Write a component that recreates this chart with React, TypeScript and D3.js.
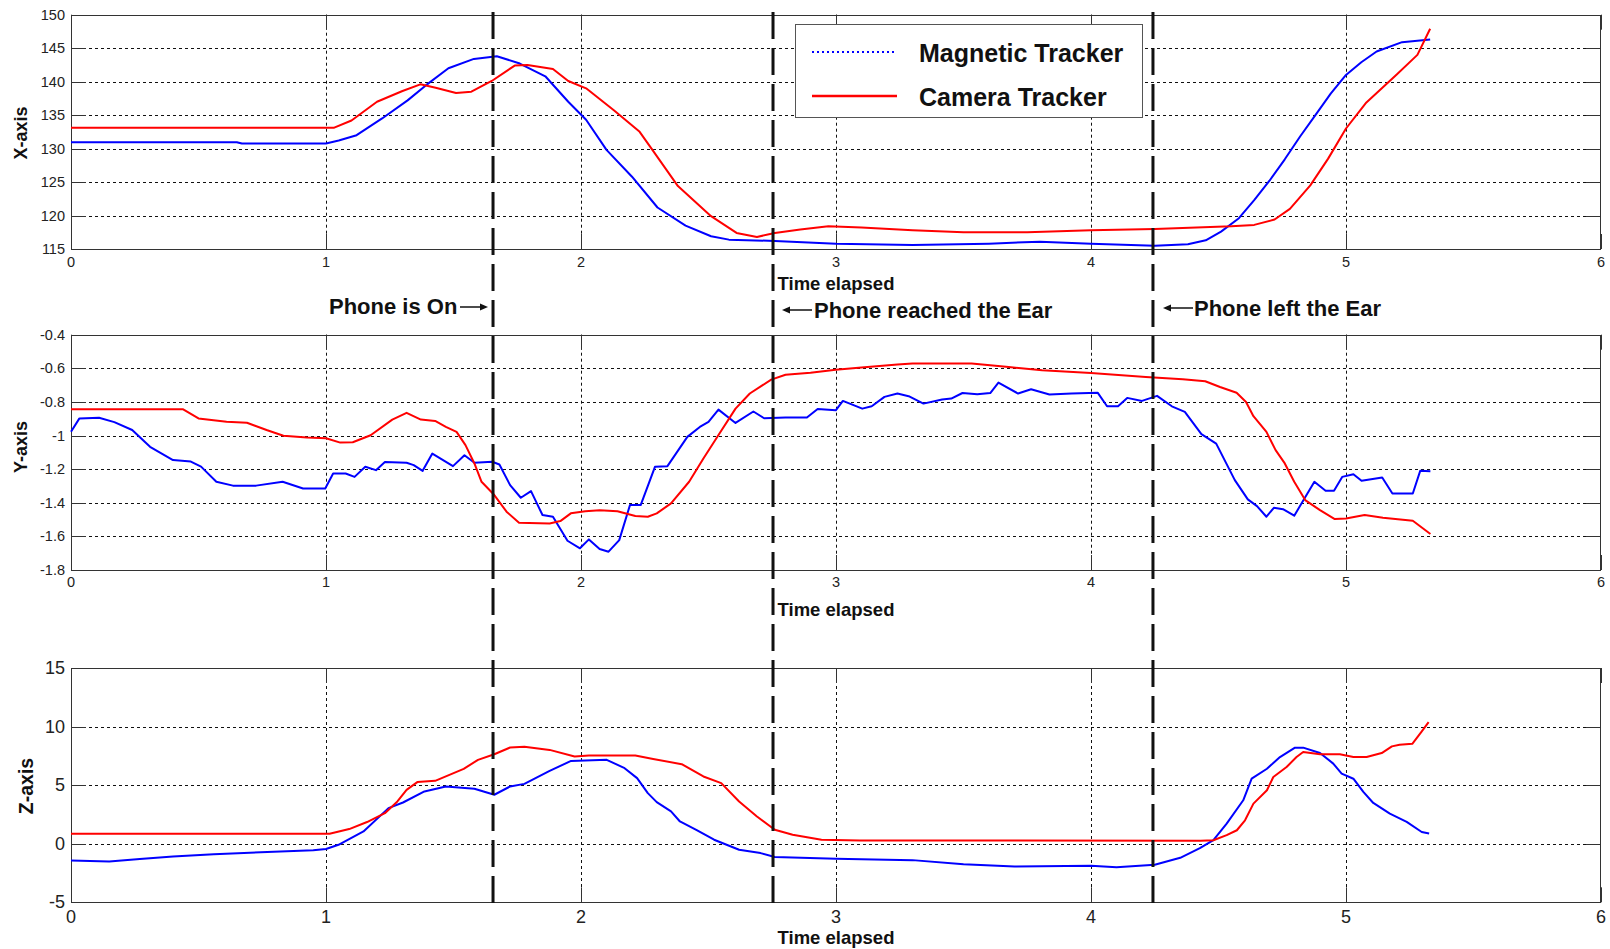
import React from "react";
import * as d3 from "d3";

// time axis shared by all three panels
const timeTicks = [0, 1, 2, 3, 4, 5, 6];

// X-axis panel
const xTicks = [115, 120, 125, 130, 135, 140, 145, 150];
const xMagnetic: [number, number][] = [
  [0, 130.95], [0.65, 130.95], [0.67, 130.75], [1.0, 130.75], [1.05, 131.2], [1.12, 132.0], [1.22, 134.5],
  [1.32, 137.2], [1.39, 139.4], [1.48, 142.0], [1.58, 143.4], [1.67, 143.8], [1.76, 142.7], [1.86, 140.8],
  [1.95, 137.0], [2.02, 134.3], [2.1, 129.8], [2.2, 125.8], [2.3, 121.2], [2.41, 118.5], [2.51, 116.9],
  [2.58, 116.4], [2.76, 116.2], [3.0, 115.8], [3.3, 115.6], [3.6, 115.8], [3.8, 116.1], [4.0, 115.8],
  [4.25, 115.5], [4.38, 115.7], [4.45, 116.3], [4.51, 117.6], [4.58, 119.6], [4.64, 122.3], [4.7, 125.2],
  [4.76, 128.4], [4.82, 131.8], [4.88, 135.0], [4.94, 138.2], [5.0, 141.0], [5.06, 142.9], [5.12, 144.5],
  [5.22, 145.9], [5.33, 146.3],
];
const xCamera: [number, number][] = [
  [0, 133.1], [1.03, 133.1], [1.1, 134.2], [1.2, 137.0], [1.3, 138.6], [1.37, 139.6], [1.43, 139.1],
  [1.51, 138.3], [1.57, 138.5], [1.65, 140.1], [1.74, 142.4], [1.79, 142.5], [1.89, 141.9], [1.95, 140.1],
  [2.02, 139.0], [2.13, 135.7], [2.23, 132.5], [2.28, 129.8], [2.38, 124.4], [2.51, 119.9], [2.61, 117.4],
  [2.69, 116.8], [2.76, 117.4], [2.86, 117.9], [2.97, 118.4], [3.1, 118.2], [3.3, 117.8], [3.5, 117.5],
  [3.75, 117.5], [4.0, 117.8], [4.25, 118.0], [4.55, 118.4], [4.64, 118.6], [4.72, 119.4], [4.78, 121.0],
  [4.86, 124.5], [4.93, 128.5], [5.0, 133.0], [5.08, 136.9], [5.2, 141.1], [5.28, 144.0], [5.33, 147.9],
];

// Y-axis panel
const yTicks = [-1.8, -1.6, -1.4, -1.2, -1, -0.8, -0.6, -0.4];
const yMagnetic: [number, number][] = [
  [0, -0.977], [0.033, -0.898], [0.11, -0.894], [0.17, -0.92], [0.24, -0.967], [0.31, -1.067], [0.4, -1.146],
  [0.47, -1.155], [0.51, -1.185], [0.57, -1.275], [0.635, -1.298], [0.726, -1.298], [0.83, -1.275],
  [0.91, -1.315], [0.997, -1.315], [1.028, -1.226], [1.077, -1.226], [1.112, -1.246], [1.154, -1.186],
  [1.196, -1.206], [1.231, -1.158], [1.316, -1.162], [1.344, -1.176], [1.379, -1.21], [1.417, -1.107],
  [1.498, -1.182], [1.543, -1.117], [1.582, -1.162], [1.652, -1.156], [1.68, -1.172], [1.722, -1.295],
  [1.764, -1.37], [1.804, -1.331], [1.849, -1.473], [1.89, -1.483], [1.947, -1.626], [1.996, -1.671],
  [2.031, -1.618], [2.073, -1.675], [2.108, -1.691], [2.15, -1.622], [2.192, -1.414], [2.234, -1.414],
  [2.29, -1.186], [2.339, -1.182], [2.417, -1.008], [2.466, -0.949], [2.5, -0.919], [2.539, -0.846],
  [2.606, -0.925], [2.676, -0.857], [2.718, -0.897], [2.802, -0.893], [2.886, -0.893], [2.928, -0.842],
  [2.999, -0.85], [3.027, -0.794], [3.103, -0.84], [3.14, -0.826], [3.19, -0.77], [3.241, -0.75],
  [3.285, -0.766], [3.343, -0.81], [3.416, -0.786], [3.452, -0.78], [3.496, -0.747], [3.554, -0.754],
  [3.605, -0.747], [3.637, -0.685], [3.714, -0.75], [3.765, -0.725], [3.837, -0.756], [3.924, -0.75],
  [4.026, -0.745], [4.063, -0.826], [4.106, -0.826], [4.142, -0.776], [4.2, -0.794], [4.259, -0.764],
  [4.317, -0.826], [4.368, -0.859], [4.433, -0.992], [4.491, -1.048], [4.564, -1.265], [4.615, -1.38],
  [4.651, -1.42], [4.688, -1.483], [4.717, -1.43], [4.753, -1.438], [4.797, -1.477], [4.876, -1.275],
  [4.92, -1.329], [4.953, -1.329], [4.985, -1.246], [5.029, -1.23], [5.061, -1.269], [5.142, -1.25],
  [5.182, -1.345], [5.262, -1.345], [5.291, -1.21], [5.331, -1.212],
];
const yCamera: [number, number][] = [
  [0, -0.844], [0.44, -0.844], [0.5, -0.898], [0.61, -0.918], [0.69, -0.924], [0.767, -0.967], [0.833, -1.001],
  [0.925, -1.012], [1.0, -1.016], [1.056, -1.042], [1.105, -1.04], [1.175, -0.998], [1.26, -0.905],
  [1.316, -0.865], [1.372, -0.905], [1.428, -0.913], [1.47, -0.948], [1.512, -0.978], [1.547, -1.057],
  [1.582, -1.166], [1.61, -1.275], [1.66, -1.354], [1.708, -1.453], [1.757, -1.519], [1.877, -1.523],
  [1.919, -1.509], [1.96, -1.463], [2.017, -1.45], [2.073, -1.444], [2.143, -1.45], [2.213, -1.479],
  [2.262, -1.483], [2.297, -1.463], [2.353, -1.404], [2.424, -1.275], [2.48, -1.137], [2.543, -0.988],
  [2.606, -0.84], [2.662, -0.75], [2.746, -0.667], [2.802, -0.638], [2.9, -0.626], [2.999, -0.608],
  [3.1, -0.595], [3.241, -0.578], [3.3, -0.572], [3.532, -0.572], [3.677, -0.592], [3.808, -0.612],
  [4.0, -0.628], [4.215, -0.651], [4.36, -0.665], [4.448, -0.677], [4.506, -0.711], [4.571, -0.745],
  [4.608, -0.8], [4.637, -0.885], [4.688, -0.978], [4.724, -1.087], [4.76, -1.166], [4.797, -1.275],
  [4.84, -1.384], [4.898, -1.444], [4.956, -1.497], [5.0, -1.493], [5.073, -1.473], [5.145, -1.489],
  [5.262, -1.507], [5.331, -1.586],
];

// Z-axis panel
const zTicks = [-5, 0, 5, 10, 15];
const zMagnetic: [number, number][] = [
  [0, -1.44], [0.15, -1.52], [0.27, -1.3], [0.4, -1.1], [0.56, -0.9], [0.77, -0.7], [0.95, -0.55],
  [1.0, -0.45], [1.049, -0.09], [1.147, 1.05], [1.245, 3.04], [1.302, 3.52], [1.386, 4.46], [1.47, 4.89],
  [1.582, 4.69], [1.66, 4.18], [1.722, 4.89], [1.778, 5.11], [1.877, 6.22], [1.961, 7.07], [2.101, 7.16],
  [2.171, 6.45], [2.22, 5.6], [2.262, 4.32], [2.297, 3.55], [2.353, 2.76], [2.388, 1.9], [2.452, 1.19],
  [2.522, 0.34], [2.62, -0.51], [2.704, -0.8], [2.76, -1.14], [3.0, -1.28], [3.3, -1.4], [3.5, -1.75],
  [3.7, -1.95], [4.0, -1.87], [4.1, -2.0], [4.25, -1.8], [4.35, -1.2], [4.427, -0.38], [4.48, 0.3],
  [4.532, 1.72], [4.597, 3.71], [4.63, 5.55], [4.69, 6.4], [4.741, 7.4], [4.8, 8.2], [4.832, 8.2],
  [4.898, 7.74], [4.95, 6.84], [4.983, 5.98], [5.029, 5.55], [5.068, 4.42], [5.107, 3.48], [5.172, 2.57],
  [5.238, 1.86], [5.297, 1.0], [5.326, 0.87],
];
const zCamera: [number, number][] = [
  [0, 0.85], [1.014, 0.85], [1.091, 1.25], [1.161, 1.85], [1.231, 2.61], [1.28, 3.61], [1.316, 4.6],
  [1.358, 5.26], [1.428, 5.37], [1.484, 5.88], [1.54, 6.39], [1.596, 7.16], [1.66, 7.64], [1.722, 8.21],
  [1.778, 8.27], [1.877, 8.01], [1.975, 7.44], [2.031, 7.53], [2.213, 7.53], [2.283, 7.24], [2.395, 6.79],
  [2.48, 5.74], [2.55, 5.17], [2.62, 3.61], [2.69, 2.33], [2.76, 1.19], [2.83, 0.77], [2.943, 0.34],
  [3.094, 0.28], [4.43, 0.25], [4.48, 0.3], [4.532, 0.73], [4.572, 1.15], [4.604, 2.0], [4.637, 3.42],
  [4.69, 4.56], [4.715, 5.7], [4.767, 6.55], [4.806, 7.4], [4.832, 7.83], [4.898, 7.63], [4.976, 7.63],
  [5.029, 7.4], [5.081, 7.4], [5.14, 7.74], [5.18, 8.31], [5.21, 8.45], [5.26, 8.53], [5.295, 9.53],
  [5.324, 10.38],
];

// event markers
const eventTimes = [1.655, 2.753, 4.243];

const FONT = "'Liberation Sans', Arial, Helvetica, sans-serif";
const W = 1610;
const H = 949;
const x = d3.scaleLinear().domain([0, 6]).range([71, 1601]);

type PanelProps = {
  top: number;
  bottom: number;
  ticks: number[];
  magnetic: [number, number][];
  camera: [number, number][];
  label: string;
  labelX: number;
  labelY: number;
  labelSize: number;
  tickSize: number;
  xLabelDy: number;
  timeY: number;
};

function Panel(p: PanelProps) {
  const y = d3.scaleLinear().domain([p.ticks[0], p.ticks[p.ticks.length - 1]]).range([p.bottom, p.top]);
  const line = d3.line<[number, number]>().x(d => x(d[0])).y(d => y(d[1]));
  const left = x(0), right = x(6);
  const tl = 15;
  return (
    <g>
      {/* grid */}
      {p.ticks.slice(1, -1).map(t => (
        <line key={"gy" + t} x1={left} x2={right} y1={Math.round(y(t)) + 0.5} y2={Math.round(y(t)) + 0.5}
          stroke="#111" strokeDasharray="3,3" strokeWidth={1} />
      ))}
      {timeTicks.slice(1, -1).map(t => (
        <line key={"gx" + t} y1={p.top} y2={p.bottom} x1={Math.round(x(t)) + 0.5} x2={Math.round(x(t)) + 0.5}
          stroke="#111" strokeDasharray="3,3" strokeWidth={1} />
      ))}
      {/* ticks */}
      {p.ticks.map(t => (
        <g key={"ty" + t}>
          <line x1={left} x2={left + tl} y1={Math.round(y(t)) + 0.5} y2={Math.round(y(t)) + 0.5} stroke="#333" />
          <line x1={right - tl} x2={right} y1={Math.round(y(t)) + 0.5} y2={Math.round(y(t)) + 0.5} stroke="#333" />
          <text x={left - 6} y={y(t)} textAnchor="end" dominantBaseline="central" fontSize={p.tickSize}
            fontFamily={FONT} fill="#222">{String(t)}</text>
        </g>
      ))}
      {timeTicks.map(t => (
        <g key={"tx" + t}>
          <line y1={p.top} y2={p.top + tl} x1={Math.round(x(t)) + 0.5} x2={Math.round(x(t)) + 0.5} stroke="#333" />
          <line y1={p.bottom - tl} y2={p.bottom} x1={Math.round(x(t)) + 0.5} x2={Math.round(x(t)) + 0.5} stroke="#333" />
          <text x={x(t)} y={p.bottom + p.xLabelDy} textAnchor="middle" fontSize={p.tickSize}
            fontFamily={FONT} fill="#222">{String(t)}</text>
        </g>
      ))}
      <rect x={left + 0.5} y={Math.round(p.top) + 0.5} width={right - left - 1} height={Math.round(p.bottom - p.top)}
        fill="none" stroke="#333" strokeWidth={1} />
      {/* data */}
      <path d={line(p.magnetic) || ""} fill="none" stroke="#0000ff" strokeWidth={2} strokeLinejoin="round" />
      <path d={line(p.camera) || ""} fill="none" stroke="#ff0000" strokeWidth={2} strokeLinejoin="round" />
      {/* labels */}
      <text transform={`translate(${p.labelX},${p.labelY}) rotate(-90)`} textAnchor="middle" dominantBaseline="central"
        fontSize={p.labelSize} fontWeight="bold" fontFamily={FONT} fill="#111">{p.label}</text>
      <text x={(left + right) / 2} y={p.timeY} textAnchor="middle" dominantBaseline="central" fontSize={18.5}
        fontWeight="bold" fontFamily={FONT} fill="#111">Time elapsed</text>
    </g>
  );
}

function Arrow({ x1, x2, y }: { x1: number; x2: number; y: number }) {
  const dir = x2 > x1 ? 1 : -1;
  return (
    <g>
      <line x1={x1} x2={x2 - dir * 6} y1={y} y2={y} stroke="#111" strokeWidth={1.5} />
      <path d={`M${x2},${y} L${x2 - dir * 8},${y - 3.5} L${x2 - dir * 8},${y + 3.5} Z`} fill="#111" />
    </g>
  );
}

export default function App() {
  return (
    <svg width={W} height={H} style={{ position: "absolute", left: 0, top: 0, background: "#fff" }}>
      <rect width={W} height={H} fill="#fff" />
      <Panel top={14.7} bottom={249} ticks={xTicks} magnetic={xMagnetic} camera={xCamera} label="X-axis"
        labelX={21} labelY={133} labelSize={18} tickSize={14.5} xLabelDy={18} timeY={283} />
      <Panel top={334.7} bottom={570} ticks={yTicks} magnetic={yMagnetic} camera={yCamera} label="Y-axis"
        labelX={21} labelY={447} labelSize={18} tickSize={14.5} xLabelDy={17} timeY={609} />
      <Panel top={668} bottom={902.3} ticks={zTicks} magnetic={zMagnetic} camera={zCamera} label="Z-axis"
        labelX={26} labelY={786} labelSize={19.5} tickSize={18} xLabelDy={21} timeY={937} />

      {/* event markers */}
      {eventTimes.map(t => (
        <line key={t} x1={x(t)} x2={x(t)} y1={12} y2={904} stroke="#111" strokeWidth={3} strokeDasharray="27,9" />
      ))}

      {/* annotations */}
      <text x={329} y={306} dominantBaseline="central" fontSize={22} fontWeight="bold" fontFamily={FONT} fill="#111">Phone is On</text>
      <Arrow x1={460} x2={488} y={307} />
      <Arrow x1={812} x2={782} y={310} />
      <text x={814} y={310} dominantBaseline="central" fontSize={22} fontWeight="bold" fontFamily={FONT} fill="#111">Phone reached the Ear</text>
      <Arrow x1={1193} x2={1163} y={308} />
      <text x={1194} y={308} dominantBaseline="central" fontSize={22} fontWeight="bold" fontFamily={FONT} fill="#111">Phone left the Ear</text>

      {/* legend */}
      <rect x={795.5} y={24.5} width={347} height={93} fill="#fff" stroke="#555" strokeWidth={1} />
      <line x1={812} x2={897} y1={52} y2={52} stroke="#0000ff" strokeWidth={2} strokeDasharray="2,3" />
      <line x1={812} x2={897} y1={96} y2={96} stroke="#ff0000" strokeWidth={2.5} />
      <text x={919} y={53} dominantBaseline="central" fontSize={25} fontWeight="bold" fontFamily={FONT} fill="#111">Magnetic Tracker</text>
      <text x={919} y={97} dominantBaseline="central" fontSize={25} fontWeight="bold" fontFamily={FONT} fill="#111">Camera Tracker</text>
    </svg>
  );
}
